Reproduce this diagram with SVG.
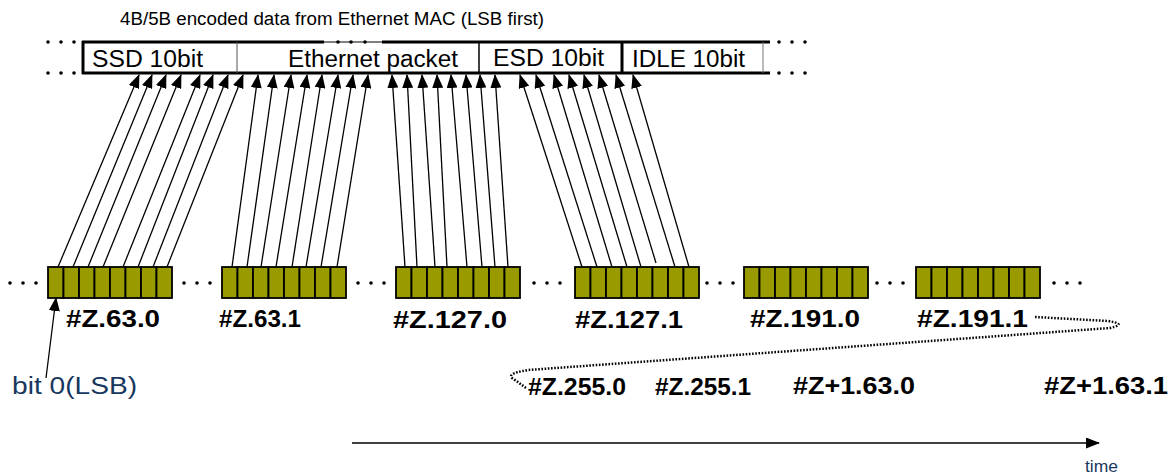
<svg xmlns="http://www.w3.org/2000/svg" width="1176" height="476" viewBox="0 0 1176 476">
<style>
.t{font-family:"Liberation Sans",Arial,sans-serif;fill:#000}
.lbl{font-family:"Liberation Sans",Arial,sans-serif;font-weight:bold;font-size:24px;fill:#000}
.nav{font-family:"Liberation Sans",Arial,sans-serif;fill:#17375E}
.cell{fill:#999900;stroke:#000;stroke-width:1.8}
.dot{fill:#000}
.ar{stroke:#000;stroke-width:1.3;fill:none;marker-end:url(#ah)}
</style>
<defs>
<marker id="ah" markerUnits="userSpaceOnUse" markerWidth="14" markerHeight="11" viewBox="0 0 14 11" refX="13" refY="5.5" orient="auto"><path d="M0,0 L14,5.5 L0,11 z" fill="#000"/></marker>
<g id="cells8">
<rect class="cell" x="0" y="0" width="15.5" height="31"/><rect class="cell" x="15.5" y="0" width="15.5" height="31"/><rect class="cell" x="31" y="0" width="15.5" height="31"/><rect class="cell" x="46.5" y="0" width="15.5" height="31"/><rect class="cell" x="62" y="0" width="15.5" height="31"/><rect class="cell" x="77.5" y="0" width="15.5" height="31"/><rect class="cell" x="93" y="0" width="15.5" height="31"/><rect class="cell" x="108.5" y="0" width="15.5" height="31"/>
</g>
<g id="dots3"><circle class="dot" cx="0" cy="0" r="1.8"/><circle class="dot" cx="13" cy="0" r="1.8"/><circle class="dot" cx="26" cy="0" r="1.8"/></g>
</defs>
<rect width="1176" height="476" fill="#fff"/>

<g id="frame">
<text class="t" x="120" y="25" font-size="18" textLength="424" lengthAdjust="spacingAndGlyphs">4B/5B encoded data from Ethernet MAC (LSB first)</text>
<use href="#dots3" x="48" y="42"/>
<use href="#dots3" x="48" y="73"/>
<use href="#dots3" x="779" y="42"/>
<use href="#dots3" x="779" y="73"/>
<line x1="82" y1="42" x2="324" y2="42" stroke="#000" stroke-width="3"/>
<line x1="324" y1="42" x2="382" y2="42" stroke="#000" stroke-width="1"/>
<circle class="dot" cx="338" cy="42" r="1.8"/><circle class="dot" cx="351" cy="42" r="1.8"/><circle class="dot" cx="365" cy="42" r="1.8"/>
<line x1="382" y1="42" x2="770" y2="42" stroke="#000" stroke-width="3"/>
<line x1="82" y1="73" x2="770" y2="73" stroke="#000" stroke-width="3"/>
<line x1="83" y1="41" x2="83" y2="74" stroke="#000" stroke-width="3"/>
<line x1="237" y1="42" x2="237" y2="73" stroke="#555" stroke-width="1"/>
<line x1="479" y1="42" x2="479" y2="73" stroke="#000" stroke-width="1.5"/>
<line x1="622" y1="42" x2="622" y2="73" stroke="#000" stroke-width="3"/>
<line x1="763" y1="42" x2="763" y2="73" stroke="#777" stroke-width="1"/>
</g>
<g id="field-ssd"><text class="t" x="92" y="67" font-size="23" textLength="111" lengthAdjust="spacingAndGlyphs">SSD 10bit</text></g>
<g id="field-eth"><text class="t" x="288" y="67" font-size="23" textLength="170" lengthAdjust="spacingAndGlyphs">Ethernet packet</text></g>
<g id="field-esd"><text class="t" x="493" y="66" font-size="23" textLength="111" lengthAdjust="spacingAndGlyphs">ESD 10bit</text></g>
<g id="field-idle"><text class="t" x="632" y="67" font-size="23" textLength="113" lengthAdjust="spacingAndGlyphs">IDLE 10bit</text></g>

<g id="connectors">
<line class="ar" x1="58" y1="267" x2="139" y2="75"/>
<line class="ar" x1="73" y1="267" x2="152" y2="75"/>
<line class="ar" x1="88" y1="267" x2="166" y2="75"/>
<line class="ar" x1="103" y1="267" x2="181" y2="75"/>
<line class="ar" x1="123" y1="267" x2="200" y2="75"/>
<line class="ar" x1="138" y1="267" x2="213" y2="75"/>
<line class="ar" x1="153" y1="267" x2="228" y2="75"/>
<line class="ar" x1="167" y1="267" x2="243" y2="75"/>
<line class="ar" x1="232" y1="267" x2="258" y2="75"/>
<line class="ar" x1="247" y1="267" x2="274" y2="75"/>
<line class="ar" x1="261" y1="267" x2="291" y2="75"/>
<line class="ar" x1="276" y1="267" x2="307" y2="75"/>
<line class="ar" x1="292" y1="267" x2="322" y2="75"/>
<line class="ar" x1="306" y1="267" x2="338" y2="75"/>
<line class="ar" x1="321" y1="267" x2="353" y2="75"/>
<line class="ar" x1="337" y1="267" x2="368" y2="75"/>
<line class="ar" x1="405" y1="267" x2="392" y2="75"/>
<line class="ar" x1="417" y1="267" x2="407" y2="75"/>
<line class="ar" x1="435" y1="267" x2="422" y2="75"/>
<line class="ar" x1="447" y1="267" x2="437" y2="75"/>
<line class="ar" x1="467" y1="267" x2="451" y2="75"/>
<line class="ar" x1="482" y1="267" x2="466" y2="75"/>
<line class="ar" x1="495" y1="267" x2="480" y2="75"/>
<line class="ar" x1="508" y1="267" x2="495" y2="75"/>
<line class="ar" x1="582" y1="267" x2="520" y2="75"/>
<line class="ar" x1="597" y1="267" x2="536" y2="75"/>
<line class="ar" x1="612" y1="267" x2="554" y2="75"/>
<line class="ar" x1="627" y1="267" x2="569" y2="75"/>
<line class="ar" x1="641" y1="267" x2="584" y2="75"/>
<line class="ar" x1="656" y1="263" x2="599" y2="75"/>
<line class="ar" x1="675" y1="267" x2="616" y2="75"/>
<line class="ar" x1="689" y1="267" x2="633" y2="75"/>
<line class="ar" x1="46" y1="378" x2="56" y2="298"/>
<path d="M1035,317 L1108,321 Q1128,324 1110,328 L528,370 Q503,374 515,380 L526,388" fill="none" stroke="#000" stroke-width="2.5" stroke-dasharray="1.6 1.6"/>
<line class="ar" x1="352" y1="443" x2="1099" y2="443"/>
</g>

<use href="#dots3" x="10" y="283"/>
<use href="#dots3" x="184" y="283"/>
<use href="#dots3" x="358" y="283"/>
<use href="#dots3" x="534" y="283"/>
<use href="#dots3" x="707" y="283"/>
<use href="#dots3" x="877" y="283"/>
<use href="#dots3" x="1054" y="283"/>

<g id="byte-z63-0"><use href="#cells8" x="48" y="267"/><text class="lbl" x="66" y="327" textLength="94" lengthAdjust="spacingAndGlyphs">#Z.63.0</text></g>
<g id="byte-z63-1"><use href="#cells8" x="222" y="267"/><text class="lbl" x="219" y="327" textLength="82" lengthAdjust="spacingAndGlyphs">#Z.63.1</text></g>
<g id="byte-z127-0"><use href="#cells8" x="396" y="267"/><text class="lbl" x="393" y="328" textLength="114" lengthAdjust="spacingAndGlyphs">#Z.127.0</text></g>
<g id="byte-z127-1"><use href="#cells8" x="575" y="267"/><text class="lbl" x="575" y="328" textLength="108" lengthAdjust="spacingAndGlyphs">#Z.127.1</text></g>
<g id="byte-z191-0"><use href="#cells8" x="744" y="267"/><text class="lbl" x="750" y="327" textLength="110" lengthAdjust="spacingAndGlyphs">#Z.191.0</text></g>
<g id="byte-z191-1"><use href="#cells8" x="916" y="267"/><text class="lbl" x="917" y="327" textLength="111" lengthAdjust="spacingAndGlyphs">#Z.191.1</text></g>

<g id="byte-z255-0"><text class="lbl" x="528" y="395" textLength="98" lengthAdjust="spacingAndGlyphs">#Z.255.0</text></g>
<g id="byte-z255-1"><text class="lbl" x="655" y="395" textLength="96" lengthAdjust="spacingAndGlyphs">#Z.255.1</text></g>
<g id="byte-z1-63-0"><text class="lbl" x="793" y="394" textLength="122" lengthAdjust="spacingAndGlyphs">#Z+1.63.0</text></g>
<g id="byte-z1-63-1"><text class="lbl" x="1044" y="394" textLength="124" lengthAdjust="spacingAndGlyphs">#Z+1.63.1</text></g>

<g id="bit0-label"><text class="nav" x="12" y="394" font-size="23" textLength="125" lengthAdjust="spacingAndGlyphs">bit 0(LSB)</text></g>
<g id="time-label"><text class="nav" x="1085" y="472" font-size="16" textLength="33" lengthAdjust="spacingAndGlyphs">time</text></g>
</svg>
